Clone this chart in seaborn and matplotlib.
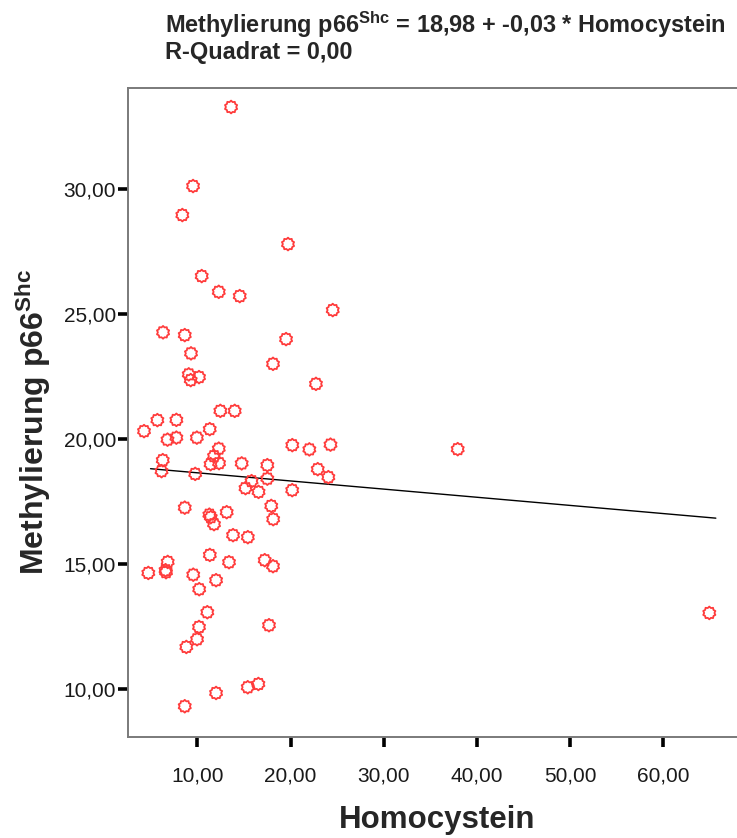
import numpy as np
import pandas as pd
import seaborn as sns
import matplotlib
matplotlib.use("Agg")
import matplotlib.pyplot as plt
from matplotlib.path import Path

# Homocystein (x) and p66Shc methylation (y) per sample
homocystein = [
    13.62, 9.54, 8.39, 19.73, 10.47, 12.30, 14.55, 24.53, 6.32, 8.65,
    19.52, 9.32, 18.12, 22.73, 9.08, 9.29, 10.18, 12.47, 14.01, 5.71,
    7.75, 4.28, 11.33, 6.80, 7.75, 9.95, 12.30, 20.19, 22.02, 24.29,
    37.94, 6.29, 6.16, 11.79, 11.42, 12.33, 14.76, 9.77, 17.51, 15.82,
    17.51, 22.92, 24.06, 15.17, 16.57, 20.18, 8.65, 17.93, 13.15, 11.29,
    11.44, 18.14, 11.79, 13.83, 15.42, 11.34, 13.40, 17.23, 18.12, 6.82,
    6.59, 6.64, 4.74, 9.56, 12.01, 10.20, 11.07, 17.69, 10.18, 9.97,
    8.82, 16.55, 15.41, 12.01, 8.65, 64.94,
]
methylierung = [
    33.28, 30.12, 28.96, 27.80, 26.52, 25.89, 25.72, 25.16, 24.27, 24.16,
    24.00, 23.43, 23.01, 22.21, 22.59, 22.36, 22.48, 21.13, 21.13, 20.76,
    20.77, 20.32, 20.40, 19.98, 20.06, 20.06, 19.62, 19.76, 19.59, 19.78,
    19.60, 19.16, 18.72, 19.32, 19.00, 19.04, 19.03, 18.61, 18.96, 18.32,
    18.42, 18.80, 18.48, 18.04, 17.89, 17.96, 17.26, 17.33, 17.08, 16.98,
    16.88, 16.80, 16.60, 16.16, 16.08, 15.37, 15.08, 15.16, 14.92, 15.09,
    14.76, 14.68, 14.65, 14.58, 14.36, 14.00, 13.08, 12.56, 12.49, 12.00,
    11.69, 10.21, 10.08, 9.85, 9.32, 13.05,
]

# Linear fit coefficients
intercept = 18.98
slope = -0.0326
r_squared = 0.0

x_ticks = [10, 20, 30, 40, 50, 60]
y_ticks = [10, 15, 20, 25, 30]

def de_num(v):
    return f"{v:.2f}".replace(".", ",")

df = pd.DataFrame({"Homocystein": homocystein, "Methylierung": methylierung})
x_fit = np.array([min(homocystein), max(homocystein)]) + 0.7
fit_df = pd.DataFrame({"Homocystein": x_fit, "Methylierung": intercept + slope * x_fit})

sns.set_theme(style="white")
plt.rcParams["font.family"] = ["Liberation Sans", "DejaVu Sans"]
plt.rcParams["mathtext.fontset"] = "custom"
plt.rcParams["mathtext.rm"] = "Liberation Sans"
plt.rcParams["mathtext.bf"] = "Liberation Sans:bold"

# Circle with small spikes, used as the point marker
n = 10
ang = np.linspace(0, 2 * np.pi, 2 * n, endpoint=False) + np.pi / 2
rad = np.where(np.arange(2 * n) % 2 == 0, 1.0, 0.8)
verts = np.column_stack([rad * np.cos(ang), rad * np.sin(ang)])
verts = np.vstack([verts, verts[:1]])
codes = [Path.MOVETO] + [Path.LINETO] * (2 * n - 1) + [Path.CLOSEPOLY]
gear = Path(verts, codes)

W, H = 737, 838
fig = plt.figure(figsize=(W / 100, H / 100), dpi=100)
ax_left, ax_right, ax_top, ax_bottom = 128, 745, 88, 737
ax = fig.add_axes([ax_left / W, (H - ax_bottom) / H,
                   (ax_right - ax_left) / W, (ax_bottom - ax_top) / H])

sns.scatterplot(data=df, x="Homocystein", y="Methylierung", ax=ax,
                marker=gear, s=85, facecolor="none", edgecolor="#ff3c3c",
                linewidth=1.3, zorder=3)
sns.lineplot(data=fit_df, x="Homocystein", y="Methylierung", ax=ax,
             color="black", linewidth=1.0, zorder=2)

ax.set_xlim(2.56, 68.77)
ax.set_ylim(8.09, 34.04)
ax.set_xticks(x_ticks)
ax.set_yticks(y_ticks)
ax.set_xticklabels([de_num(v) for v in x_ticks], fontsize=15)
ax.set_yticklabels([de_num(v) for v in y_ticks], fontsize=15)
ax.tick_params(axis="both", which="major", direction="out", length=7.5,
               width=2.6, color="black", labelcolor="#1a1a1a",
               bottom=True, left=True, top=False, right=False)
ax.tick_params(axis="x", pad=14)
ax.tick_params(axis="y", pad=1)

for side in ["left", "top", "bottom", "right"]:
    ax.spines[side].set_color("#7a7a7a")
    ax.spines[side].set_linewidth(1.4)

aw, ah = ax_right - ax_left, ax_bottom - ax_top
ax.set_xlabel("Homocystein", fontsize=22.5, fontweight="bold", va="center")
ax.xaxis.set_label_coords((437 - ax_left) / aw, -(820 - ax_bottom) / ah)
ax.set_ylabel(r"Methylierung p66$^{\mathbf{Shc}}$", fontsize=23,
              fontweight="bold", va="center")
ax.yaxis.set_label_coords((33 - ax_left) / aw, (ax_bottom - 422) / ah)

title = (rf"Methylierung p66$^{{\mathbf{{Shc}}}}$ = {de_num(intercept)} + "
         f"{de_num(slope)} * Homocystein\nR-Quadrat = {de_num(r_squared)}")
fig.text(165 / W, 1 - 9 / H, title, ha="left", va="top", fontsize=16.9,
         fontweight="bold", linespacing=1.05)

fig.savefig("out.png", dpi=100)
